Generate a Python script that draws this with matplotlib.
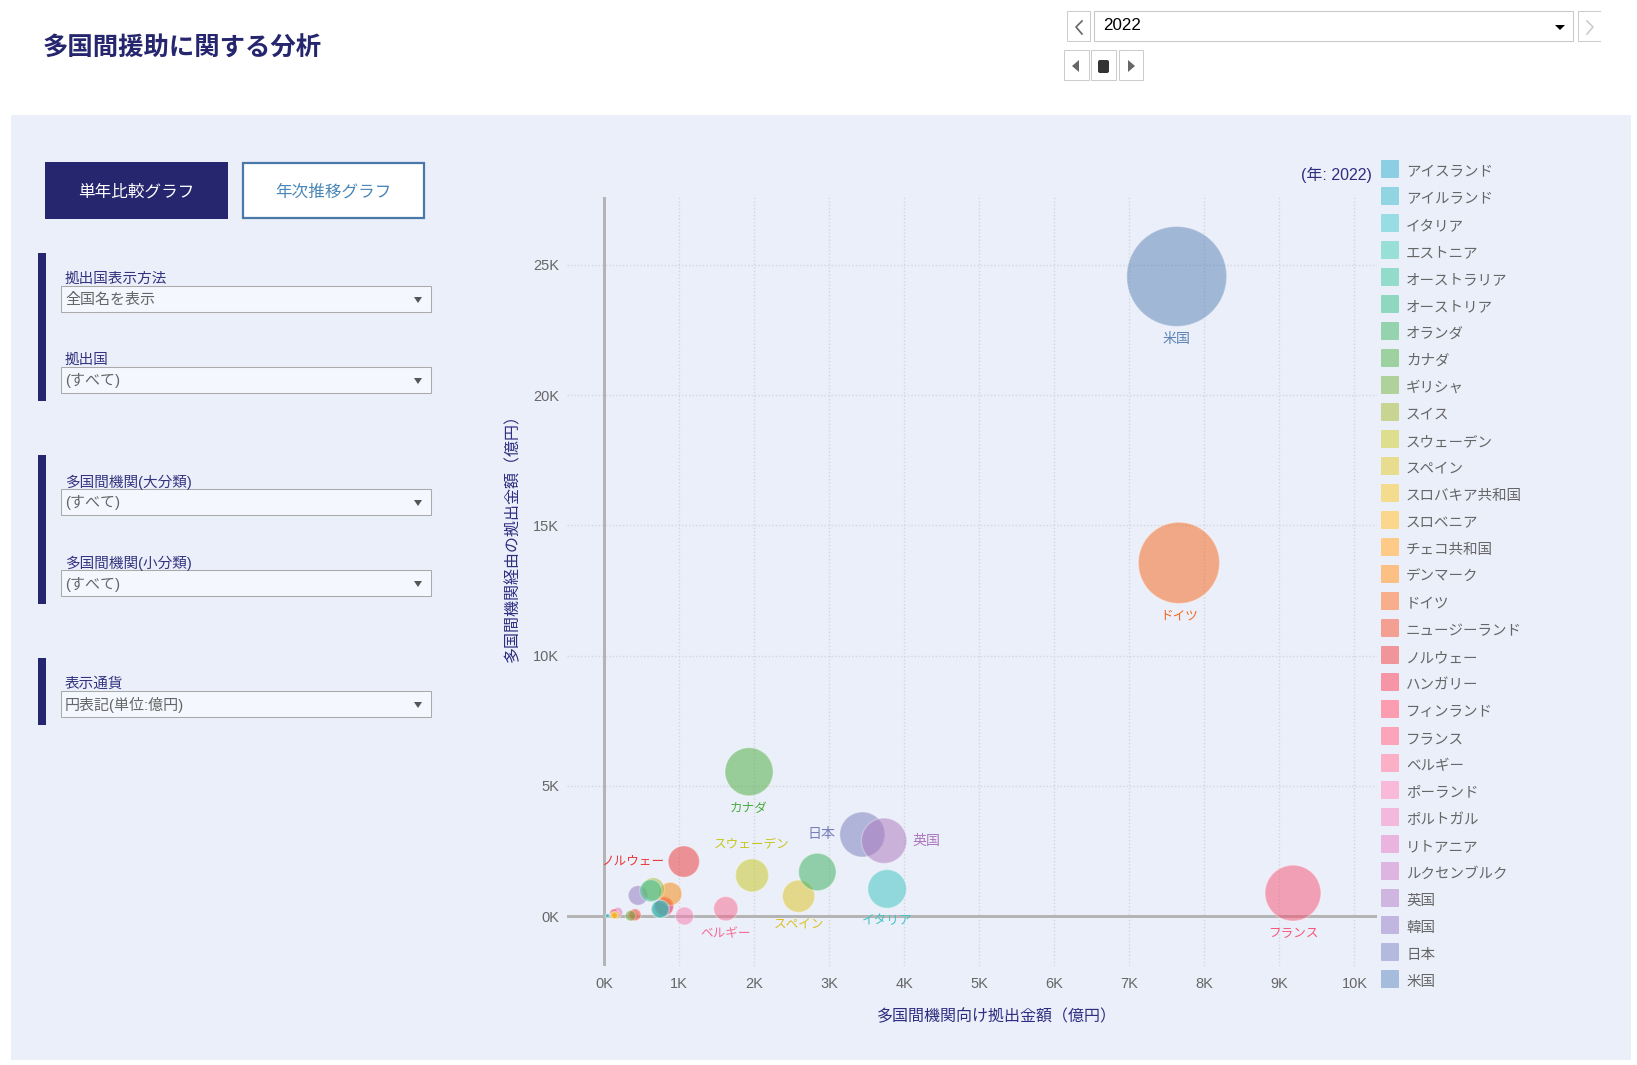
import numpy as np
import matplotlib
matplotlib.use('Agg')
import matplotlib.pyplot as plt
from matplotlib.colors import to_rgb
from matplotlib.patches import Rectangle, FancyBboxPatch, Polygon

plt.rcParams['font.family'] = ['Liberation Sans', 'Noto Sans CJK JP']

# data (K = thousand oku yen)
countries = ['アイスランド', 'アイルランド', 'イタリア', 'エストニア', 'オーストラリア', 'オーストリア',
             'オランダ', 'カナダ', 'ギリシャ', 'スイス', 'スウェーデン', 'スペイン',
             'スロバキア共和国', 'スロベニア', 'チェコ共和国', 'デンマーク', 'ドイツ', 'ニュージーランド',
             'ノルウェー', 'ハンガリー', 'フィンランド', 'フランス', 'ベルギー', 'ポーランド',
             'ポルトガル', 'リトアニア', 'ルクセンブルク', '英国', '韓国', '日本', '米国']
multilateral = [0.04, 0.75, 3.77, 0.05, 0.62, 0.74,
                2.84, 1.93, 0.35, 0.65, 1.97, 2.59,
                0.13, 0.14, 0.16, 0.88, 7.66, 0.41,
                1.06, 0.13, 0.80, 9.18, 1.62, 1.07,
                0.38, 0.18, 0.79, 3.73, 0.45, 3.44, 7.63]
bilateral = [0.01, 0.27, 1.04, 0.01, 0.97, 0.26,
             1.69, 5.54, 0.01, 1.03, 1.56, 0.76,
             0.02, 0.03, 0.03, 0.85, 13.56, 0.05,
             2.09, 0.11, 0.38, 0.88, 0.28, 0.00,
             0.02, 0.14, 0.33, 2.89, 0.79, 3.13, 24.56]
swatch_colors = ['#8ccfe3', '#92d5e2', '#97dde3', '#98dfd8', '#93dbcb', '#8fd7bf',
                 '#94d3ae', '#9dd19f', '#aed29a', '#c8d592', '#dddf8e', '#e8dc8e',
                 '#f4dc8f', '#fbd78c', '#fdca88', '#fcc085', '#f8ad8c', '#f3a092',
                 '#f0959a', '#f695a5', '#fc9cb0', '#fca5ba', '#fcb0c8', '#f9b9d8',
                 '#f2b8dd', '#e9b4de', '#ddb5e0', '#cfb6e0', '#c1b6e0', '#b4b9de', '#a6bcdc']

# countries with a text label, and which side of the bubble it sits on
labelled = {'米国': 'below', 'ドイツ': 'below', 'フランス': 'below', 'カナダ': 'below',
            '日本': 'left', '英国': 'right', 'スウェーデン': 'above', 'スペイン': 'below',
            'イタリア': 'below', 'ノルウェー': 'left', 'ベルギー': 'below'}

xticks = list(range(0, 11))
yticks = [0, 5, 10, 15, 20, 25]

filters = [('拠出国表示方法', '全国名を表示', 286),
           ('拠出国', '(すべて)', 367),
           ('多国間機関(大分類)', '(すべて)', 489),
           ('多国間機関(小分類)', '(すべて)', 570),
           ('表示通貨', '円表記(単位:億円)', 691)]

NAVY = '#26266f'
PANEL = '#ebeffa'
GRAY = '#666666'
W, H = 1637, 1065


def px(n):
    # css pixels to points at dpi 100
    return n * 0.72


fig = plt.figure(figsize=(W / 100, H / 100), dpi=100, facecolor='white')

# background layer in pixel coordinates for the page controls
bg = fig.add_axes([0, 0, 1, 1], zorder=0)
bg.set_xlim(0, W)
bg.set_ylim(H, 0)
bg.axis('off')


def box(x0, y0, x1, y1, fc='white', ec='#cccccc', lw=0.75):
    bg.add_patch(Rectangle((x0, y0), x1 - x0, y1 - y0, facecolor=fc, edgecolor=ec, linewidth=lw))


def tri(points, color):
    bg.add_patch(Polygon(points, closed=True, facecolor=color, edgecolor='none'))


bg.add_patch(Rectangle((11, 115), 1620, 945, facecolor=PANEL, edgecolor='none'))
bg.text(43, 49, '多国間援助に関する分析', fontsize=px(25.4), fontweight='bold', color=NAVY, va='center')

# top right controls
box(1067, 11, 1090, 41)
box(1094, 11, 1573, 41, ec='#c8c8c8')
bg.plot([1600, 1578, 1578, 1600], [11, 11, 41, 41], color='#cccccc', lw=0.75)
bg.text(1103, 26, '2022', fontsize=px(17), color='black', va='center')
tri([(1555, 25), (1565, 25), (1560, 30)], 'black')
bg.plot([1082, 1076, 1082], [21, 27, 34], color=GRAY, lw=1.2)
bg.plot([1587, 1593, 1587], [21, 27, 34], color='#cccccc', lw=1.2)
box(1064, 50, 1089, 80)
box(1091, 50, 1116, 80)
box(1119, 50, 1143, 80)
tri([(1079, 60), (1079, 72), (1072, 66)], GRAY)
bg.add_patch(FancyBboxPatch((1100, 62), 7, 9, boxstyle='round,pad=2', facecolor='#333333', edgecolor='none'))
tri([(1128, 60), (1128, 72), (1135, 66)], GRAY)

# tab buttons
box(45, 162, 228, 219, fc=NAVY, ec='none', lw=0)
bg.text(136.5, 192, '単年比較グラフ', fontsize=px(16.6), color='white', ha='center', va='center')
box(243, 163, 424, 218, fc='white', ec='#4a78a8', lw=1.6)
bg.text(333.5, 192, '年次推移グラフ', fontsize=px(16.6), color='#4a86b8', ha='center', va='center')

# filter panel
for y0, y1 in [(253, 401), (455, 604), (658, 725)]:
    box(38, y0, 46, y1, fc=NAVY, ec='none', lw=0)
for label, value, top in filters:
    bg.text(65, top - 7, label, fontsize=px(14.6), color='#33337f', va='center')
    box(61, top, 431, top + 26, fc='#f4f7fe', ec='#aaaaaa')
    bg.text(65, top + 14, value, fontsize=px(15), color=GRAY, va='center')
    tri([(414, top + 11), (422, top + 11), (418, top + 17)], '#555555')

# legend
for i, (name, col) in enumerate(zip(countries, swatch_colors)):
    top = 160 + 27 * i
    bg.add_patch(FancyBboxPatch((1382, top + 1), 16, 16, boxstyle='round,pad=1', facecolor=col, edgecolor='none'))
    bg.text(1406, top + 12, name, fontsize=px(14.5), color=GRAY, va='center')
bg.text(1372, 175, '(年: 2022)', fontsize=px(16), color='#2e2e80', ha='right', va='center')

# chart
ax_l, ax_r, ax_t, ax_b = 567, 1377, 197, 966
ax = fig.add_axes([ax_l / W, 1 - ax_b / H, (ax_r - ax_l) / W, (ax_b - ax_t) / H], zorder=1)
ax.patch.set_alpha(0)
ax.set_xlim(-0.497, 10.30)
ax.set_ylim(-1.92, 27.61)
for s in ax.spines.values():
    s.set_visible(False)
ax.set_xticks(xticks)
ax.set_xticklabels([f'{v}K' for v in xticks])
ax.set_yticks(yticks)
ax.set_yticklabels([f'{v}K' for v in yticks])
ax.tick_params(length=0, labelsize=px(14.5), labelcolor=GRAY)
ax.tick_params(axis='x', pad=px(11))
ax.tick_params(axis='y', pad=px(8))
ax.grid(True, color='#d4d6de', lw=1.0, ls=(0, (1, 1.5)), zorder=1)
ax.set_axisbelow(True)
ax.axhline(0, color='#b4b4b4', lw=px(3), zorder=2)
ax.axvline(0, color='#b4b4b4', lw=px(3), zorder=2)

# label colour is the swatch before the 50% blend with the panel
panel_rgb = np.array(to_rgb(PANEL))
base = [np.clip(2 * np.array(to_rgb(c)) - panel_rgb, 0, 1) * 0.96 for c in swatch_colors]

xs = np.array(multilateral)
ys = np.array(bilateral)
total = xs + ys
diam = 100 * np.sqrt(total / total.max())
faces = [(*b, 0.52) for b in base]
# reversed so the early countries end up on top, as in the cluster near the origin
ax.scatter(xs[::-1], ys[::-1], s=(diam[::-1] * 0.72) ** 2, c=faces[::-1],
           edgecolors=(1, 1, 1, 0.3), linewidths=1.0, zorder=3)

offsets = {'below': lambda r: ((0, -(r + 13)), 'center'),
           'above': lambda r: ((0, r + 14), 'center'),
           'left': lambda r: ((-(r + 4), 0), 'right'),
           'right': lambda r: ((r + 6, 0), 'left')}
for name, side in labelled.items():
    i = countries.index(name)
    (dx, dy), ha = offsets[side](diam[i] / 2)
    # the kana labels are set narrower than the kanji ones
    size = 14 if len(name) == 2 else 12.6
    ax.annotate(name, (xs[i], ys[i]), xytext=(px(dx), px(dy)), textcoords='offset points',
                fontsize=px(size), color=base[i], ha=ha, va='center', zorder=4)

ax.set_xlabel('多国間機関向け拠出金額（億円）', fontsize=px(16), color='#2e2e80', va='center')
ax.xaxis.set_label_coords((997 - ax_l) / (ax_r - ax_l), (ax_b - 1016) / (ax_b - ax_t))
ax.set_ylabel('多国間機関経由の拠出金額（億円）', fontsize=px(16), color='#2e2e80', va='center')
ax.yaxis.set_label_coords((512 - ax_l) / (ax_r - ax_l), (ax_b - 534) / (ax_b - ax_t))

fig.savefig('out.png', dpi=100)
